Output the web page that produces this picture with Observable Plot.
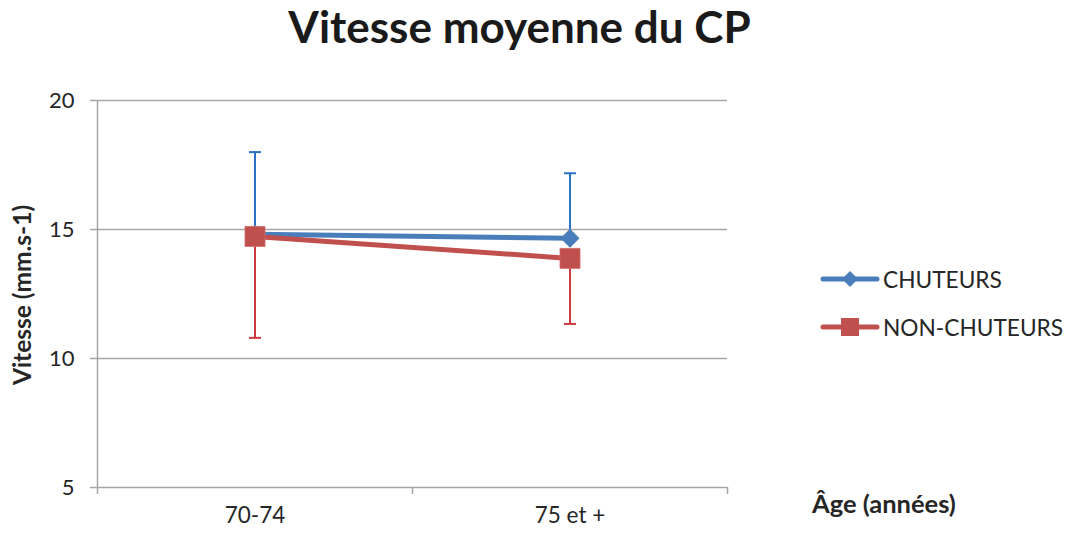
<!DOCTYPE html>
<html>
<head>
<meta charset="utf-8">
<script src="https://cdn.jsdelivr.net/npm/d3@7"></script>
<script src="https://cdn.jsdelivr.net/npm/@observablehq/plot@0.6"></script>
<style>
  html, body { margin: 0; padding: 0; background: #fff; }
  #chart { position: relative; width: 1065px; height: 533px; font-family: Lato, "Open Sans", sans-serif; color: #262626; }
  #chart svg.plot { position: absolute; left: 0; top: 0; }
  .title { position: absolute; left: 0; width: 1039px; top: 0px; text-align: center; font-size: 44px; font-weight: bold; color: #1a1a1a; line-height: 52px; }
  .ylab { position: absolute; left: 22px; top: 295px; transform: translate(-50%, -50%) rotate(-90deg); font-size: 24.5px; font-weight: bold; white-space: nowrap; line-height: 28px; }
  .xlab { position: absolute; left: 812px; top: 503px; transform: translateY(-50%); font-size: 25.5px; font-weight: bold; white-space: nowrap; line-height: 30px; }
  .legend { position: absolute; left: 820px; top: 255px; }
  .legend .row { display: flex; align-items: center; height: 48px; font-size: 22.7px; }
  .legend .row span { margin-left: 3px; }
</style>
</head>
<body>
<div id="chart">
  <div class="title">Vitesse moyenne du CP</div>
  <div class="ylab">Vitesse (mm.s-1)</div>
  <div class="xlab">Âge (années)</div>
  <div class="legend" id="legend"></div>
</div>
<script>
// Age groups on the horizontal axis
const categories = ["70-74", "75 et +"];

// Mean speed per age group, with the error bar extent
const chuteurs = [14.82, 14.66];
const chuteursErr = [3.18, 2.52];      // drawn upward
const nonChuteurs = [14.73, 13.88];
const nonChuteursErr = [3.93, 2.54];   // drawn downward

const yTicks = [5, 10, 15, 20];

const blue = "#4a7ebb";
const red = "#c0504d";
const blueErr = "#2a72c4";
const redErr = "#cc3a40";
const grid = "#a6a6a6";

const rows = (name, vals, errs, sign) => vals.map((v, i) => ({
  series: name, x: i + 0.5, y: v, lo: sign > 0 ? v : v - errs[i], hi: sign > 0 ? v + errs[i] : v,
  cap: sign > 0 ? v + errs[i] : v - errs[i]
}));
const blueRows = rows("CHUTEURS", chuteurs, chuteursErr, 1);
const redRows = rows("NON-CHUTEURS", nonChuteurs, nonChuteursErr, -1);

// Horizontal cap symbol for the error bars
const capSymbol = {
  draw(ctx, size) {
    const r = Math.sqrt(size / Math.PI);
    ctx.moveTo(-r, 0);
    ctx.lineTo(r, 0);
  }
};

const boundaries = d3.range(categories.length + 1);
const centers = categories.map((c, i) => i + 0.5);

const plot = Plot.plot({
  width: 1065,
  height: 533,
  marginTop: 100,
  marginBottom: 46,
  marginLeft: 97,
  marginRight: 338,
  style: { fontFamily: "Lato, 'Open Sans', sans-serif", fontSize: "22px", color: "#262626", background: "transparent" },
  x: { type: "linear", domain: [0, categories.length] },
  y: { domain: [5, 20] },
  marks: [
    Plot.ruleY(yTicks.filter(t => t > 5), { stroke: grid, strokeWidth: 1.5 }),
    Plot.ruleY([5], { stroke: grid, strokeWidth: 1.5 }),
    Plot.ruleX([0], { stroke: grid, strokeWidth: 1.5 }),
    Plot.axisY({ ticks: yTicks, tickSize: 7, tickPadding: 16, label: null, stroke: grid, strokeWidth: 1.5, fontSize: 22, fill: "#262626" }),
    Plot.axisX({ ticks: boundaries, tickSize: 7, tickFormat: () => "", label: null, stroke: grid, strokeWidth: 1.5 }),
    Plot.axisX({ ticks: centers, tickSize: 0, tickPadding: 20, tickFormat: d => categories[Math.round(d - 0.5)], label: null, fontSize: 22.5, fill: "#262626" }),

    // CHUTEURS
    Plot.line(blueRows, { x: "x", y: "y", stroke: blue, strokeWidth: 5 }),
    Plot.ruleX(blueRows, { x: "x", y1: "lo", y2: "hi", stroke: blueErr, strokeWidth: 2 }),
    Plot.dot(blueRows, { x: "x", y: "cap", symbol: capSymbol, r: 6, stroke: blueErr, strokeWidth: 2, fill: "none" }),
    Plot.dot(blueRows, { x: "x", y: "y", symbol: "diamond2", r: 8.6, fill: blue, stroke: "none" }),

    // NON-CHUTEURS
    Plot.line(redRows, { x: "x", y: "y", stroke: red, strokeWidth: 5 }),
    Plot.ruleX(redRows, { x: "x", y1: "lo", y2: "hi", stroke: redErr, strokeWidth: 2 }),
    Plot.dot(redRows, { x: "x", y: "cap", symbol: capSymbol, r: 6, stroke: redErr, strokeWidth: 2, fill: "none" }),
    Plot.dot(redRows, { x: "x", y: "y", symbol: "square", r: 11.3, fill: red, stroke: "#d06a67", strokeWidth: 0.8 })
  ]
});
plot.classList.add("plot");
document.getElementById("chart").prepend(plot);

// Legend
const legendItems = [
  { name: "CHUTEURS", color: blue, symbol: "diamond" },
  { name: "NON-CHUTEURS", color: red, symbol: "square" }
];
const legend = d3.select("#legend");
for (const item of legendItems) {
  const row = legend.append("div").attr("class", "row");
  const svg = row.append("svg").attr("width", 60).attr("height", 24);
  svg.append("line").attr("x1", 3).attr("x2", 57).attr("y1", 12).attr("y2", 12)
    .attr("stroke", item.color).attr("stroke-width", 5).attr("stroke-linecap", "round");
  if (item.symbol === "diamond") {
    svg.append("path").attr("d", "M30,4L38,12L30,20L22,12Z").attr("fill", item.color);
  } else {
    svg.append("rect").attr("x", 21).attr("y", 3).attr("width", 18).attr("height", 18).attr("fill", item.color);
  }
  row.append("span").text(item.name);
}
</script>
</body>
</html>
